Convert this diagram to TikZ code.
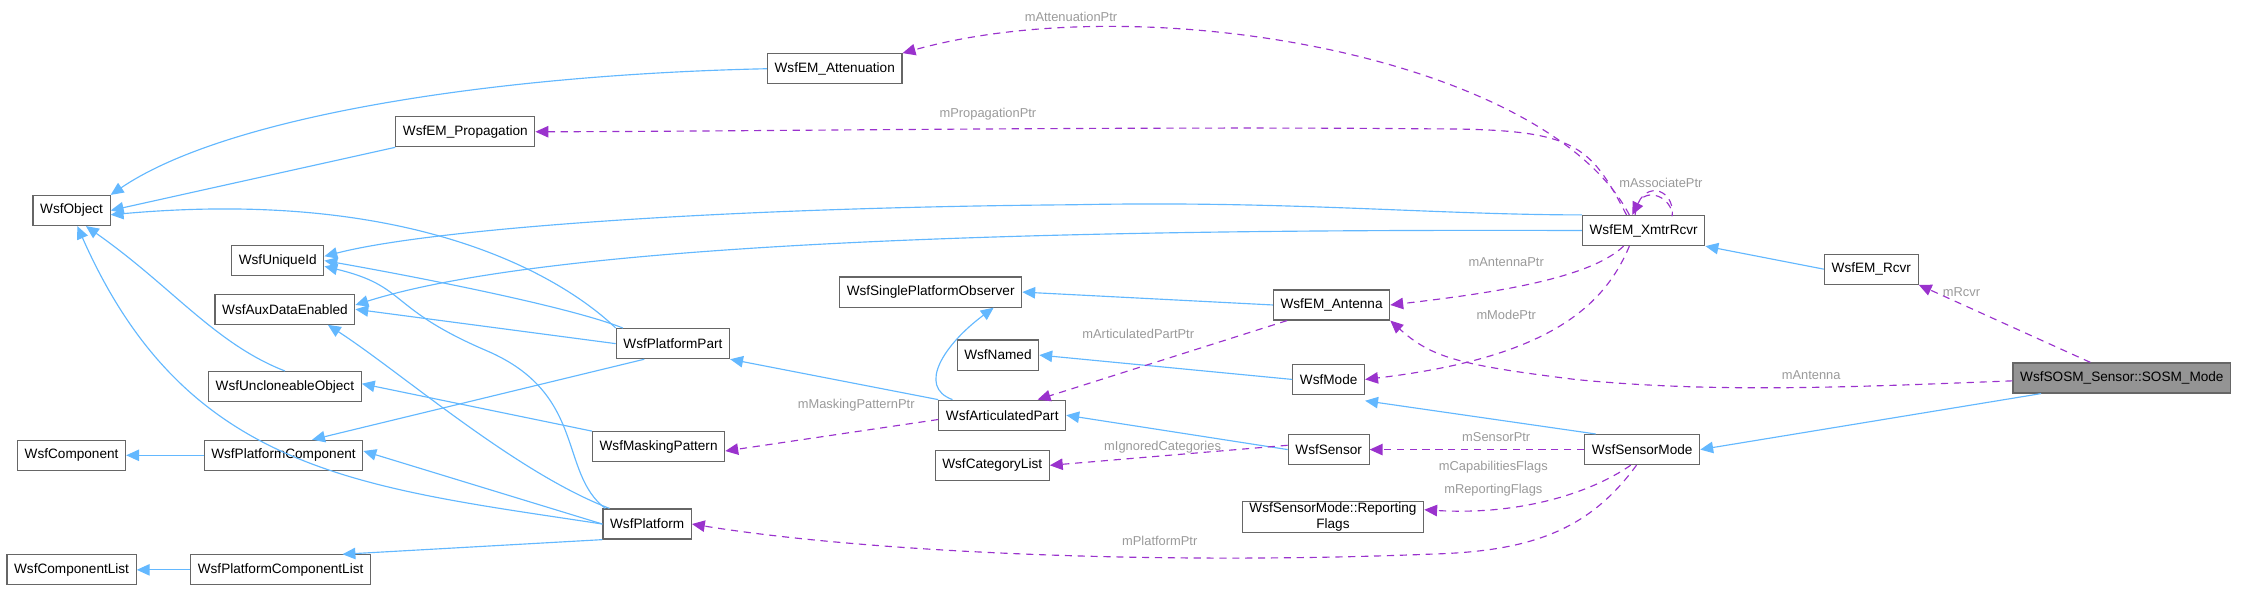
\documentclass[tikz,border=0pt]{standalone}
\usepackage{fontspec}
\setmainfont{Liberation Sans}
\usetikzlibrary{arrows.meta}
\definecolor{inh}{HTML}{63B8FF}
\definecolor{ptr}{HTML}{9A32CD}
\definecolor{lbl}{HTML}{9A9A9A}
\definecolor{bord}{HTML}{666666}
\begin{document}
\begin{tikzpicture}[x=1pt,y=-1pt,
  cls/.style={draw=bord,fill=white,line width=0.8pt,minimum height=21pt,inner xsep=5pt,inner ysep=2pt,font=\fontsize{9.5}{11}\selectfont,align=center},
  inh/.style={draw=inh,line width=0.8pt,-{Triangle[length=9pt,width=8pt]}},
  ptr/.style={draw=ptr,line width=0.8pt,dash pattern=on 5pt off 4pt,-{Triangle[length=9pt,width=8pt]}},
  lab/.style={text=lbl,font=\fontsize{9}{10}\selectfont,inner sep=1pt}]
\useasboundingbox (0,0) rectangle (1568,413.4);
\node[cls] (obj) at (50,147) {WsfObject};
\node[cls] (att) at (583,48) {WsfEM\_Attenuation};
\node[cls] (prop) at (325,92) {WsfEM\_Propagation};
\node[cls] (uid) at (194,182) {WsfUniqueId};
\node[cls] (aux) at (199,216) {WsfAuxDataEnabled};
\node[cls] (uncl) at (199,270) {WsfUncloneableObject};
\node[cls] (comp) at (50,318) {WsfComponent};
\node[cls] (pcomp) at (198,318) {WsfPlatformComponent};
\node[cls] (clist) at (50,398) {WsfComponentList};
\node[cls] (pcl) at (196,398) {WsfPlatformComponentList};
\node[cls] (spo) at (650,204) {WsfSinglePlatformObserver};
\node[cls] (pp) at (470,240) {WsfPlatformPart};
\node[cls] (mask) at (460,312) {WsfMaskingPattern};
\node[cls] (plat) at (452,366) {WsfPlatform};
\node[cls] (art) at (700,290) {WsfArticulatedPart};
\node[cls] (named) at (697,248) {WsfNamed};
\node[cls] (cat) at (693,325) {WsfCategoryList};
\node[cls] (ant) at (930,213) {WsfEM\_Antenna};
\node[cls] (mode) at (928,265) {WsfMode};
\node[cls] (sens) at (928,314) {WsfSensor};
\node[cls,inner ysep=1pt] (flags) at (931,361) {WsfSensorMode::Reporting\\Flags};
\node[cls] (xr) at (1148,161) {WsfEM\_XmtrRcvr};
\node[cls] (rcvr) at (1307,188) {WsfEM\_Rcvr};
\node[cls,fill=black!42] (sosm) at (1482,264) {WsfSOSM\_Sensor::SOSM\_Mode};
\node[cls] (sm) at (1147,314) {WsfSensorMode};
% inheritance
\draw[inh] (att.west) .. controls (350,52) and (160,80) .. (obj.north east);
\draw[inh] (prop.south west) -- (obj.east);
\draw[inh] (pp.north west) .. controls (400,200) and (300,130) .. ([yshift=-3pt]obj.east);
\draw[inh] (uncl.north) .. controls (150,240) and (120,200) .. ([xshift=10pt]obj.south);
\draw[inh] (plat.west) .. controls (250,340) and (130,330) .. ([xshift=4pt]obj.south);
\draw[inh] (xr.north west) .. controls (1000,150) and (900,140) .. (750,143) .. controls (500,145) and (300,160) .. ([yshift=3pt]uid.east);
\draw[inh] (xr.west) .. controls (800,160) and (400,165) .. ([yshift=3pt]aux.east);
\draw[inh] ([xshift=5pt]pp.north west) .. controls (400,215) and (300,195) .. (uid.east);
\draw[inh] (pp.west) -- (aux.east);
\draw[inh] ([xshift=2pt]plat.north west) .. controls (390,330) and (410,275) .. (340,245) .. controls (270,215) and (285,200) .. ([yshift=-4pt]uid.east);
\draw[inh] ([xshift=5pt]plat.north west) .. controls (360,330) and (280,260) .. ([xshift=30pt]aux.south);
\draw[inh] (plat.west) -- ([yshift=3pt]pcomp.east);
\draw[inh] (plat.south west) -- ([xshift=-20pt]pcl.north east);
\draw[inh] ([xshift=-20pt]pp.south) -- ([xshift=20pt]pcomp.north);
\draw[inh] (pcomp.west) -- (comp.east);
\draw[inh] (pcl.west) -- (clist.east);
\draw[inh] (mask.north west) -- ([yshift=2pt]uncl.east);
\draw[inh] (art.north west) -- (pp.south east);
\draw[inh] ([xshift=10pt]art.north west) .. controls (640,270) and (660,240) .. ([xshift=-20pt]spo.south east);
\draw[inh] (ant.west) -- (spo.east);
\draw[inh] (mode.west) -- (named.east);
\draw[inh] (sens.west) -- (art.east);
\draw[inh] ([xshift=8pt]sm.north west) -- ([yshift=-4pt]mode.south east);
\draw[inh] (rcvr.west) -- (xr.south east);
\draw[inh] ([xshift=20pt]sosm.south west) -- (sm.east);
% pointers
\draw[ptr] ([xshift=-10pt]xr.north) .. controls (1080,40) and (800,-10) .. (att.north east);
\node[lab] (l1) at (748,12) {mAttenuationPtr};
\draw[ptr] ([xshift=-12pt]xr.north) .. controls (1110,100) and (1100,90) .. (1000,90) .. controls (800,88) and (500,92) .. (prop.east);
\node[lab] (l2) at (690,80) {mPropagationPtr};
\draw[ptr] ([xshift=-6pt]xr.north) .. controls (1145,125) and (1170,130) .. (1168,151) .. controls (1168,138) and (1150,130) .. ([xshift=-8pt]xr.north);
\node[lab] (l3) at (1160,128) {mAssociatePtr};
\draw[ptr] ([xshift=-14pt]xr.south) .. controls (1110,195) and (1040,205) .. (ant.east);
\node[lab] (l4) at (1052,183) {mAntennaPtr};
\draw[ptr] ([xshift=-10pt]xr.south) .. controls (1120,215) and (1080,250) .. (mode.east);
\node[lab] (l5) at (1052,220) {mModePtr};
\draw[ptr] ([xshift=10pt]ant.south west) -- ([xshift=-20pt]art.north east);
\node[lab] (l6) at (795,233) {mArticulatedPartPtr};
\draw[ptr] ([yshift=-3pt]art.west) -- ([yshift=-3pt]mask.east);
\node[lab] (l7) at (598,283) {mMaskingPatternPtr};
\draw[ptr] ([yshift=3pt]sens.west) -- (cat.east);
\node[lab] (l8) at (812,312) {mIgnoredCategories};
\draw[ptr] (sm.west) -- (sens.east);
\node[lab] (l9) at (1045,305) {mSensorPtr};
\draw[ptr] ([xshift=-8pt]sm.south) .. controls (1110,345) and (1060,360) .. ([yshift=5pt]flags.east);
\node[lab] (l10) at (1043,326) {mCapabilitiesFlags};
\node[lab] (l11) at (1043,342) {mReportingFlags};
\draw[ptr] ([xshift=-4pt]sm.south) .. controls (1110,370) and (1070,385) .. (1000,387) .. controls (800,395) and (600,385) .. (plat.east);
\node[lab] (l12) at (810,378) {mPlatformPtr};
\draw[ptr] ([xshift=-22pt]sosm.north) -- (rcvr.south east);
\node[lab] (l13) at (1370,204) {mRcvr};
\draw[ptr] ([yshift=-2pt]sosm.west) .. controls (1300,270) and (1200,275) .. (1100,265) .. controls (1020,255) and (1000,250) .. (ant.south east);
\node[lab] (l14) at (1265,262) {mAntenna};
\end{tikzpicture}
\end{document}
